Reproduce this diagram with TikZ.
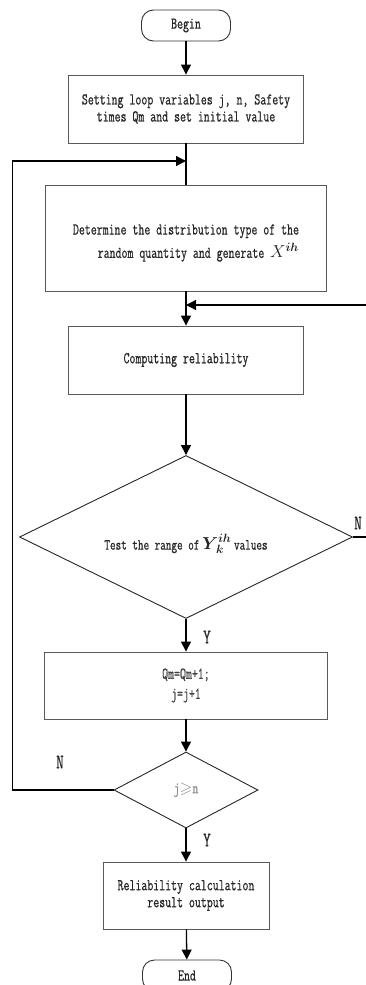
\documentclass[tikz,border=0pt]{standalone}
\usepackage{amsmath,amssymb}
\usepackage{fontspec}
\usepackage{tikz}
\usetikzlibrary{shapes.geometric,arrows.meta,positioning}
\newfontfamily\chartfamily{Latin Modern Mono}[FakeStretch=0.7,FakeBold=0.6]
\newcommand{\boxfont}{\chartfamily\fontsize{16.5}{17}\selectfont}
\newcommand{\smallfont}{\chartfamily\fontsize{15.5}{20}\selectfont}
\newcommand{\labelfont}{\chartfamily\fontsize{21}{21}\selectfont}
\newcommand{\bigmath}{\fontsize{18}{18}\selectfont}
\tikzstyle{procbox} = [draw=black!65, line width=0.9pt, rectangle,
    align=center, text=black!85, font=\boxfont, inner sep=0pt]
\tikzstyle{terminal} = [draw=black!80, line width=0.9pt, rectangle,
    rounded corners=12pt, minimum width=89pt, minimum height=31pt,
    text=black!85, font=\boxfont]
\tikzstyle{decision} = [draw=black!85, line width=0.9pt, diamond,
    inner sep=0pt, text=black!85, font=\smallfont]
\tikzstyle{flow} = [draw=black, line width=1.3pt,
    -{Triangle[length=10pt,width=10pt]}]
\tikzstyle{branch} = [text=black!85, font=\labelfont]

\begin{document}
\begin{tikzpicture}[x=1pt,y=-1pt]
\clip (0,0) rectangle (366,985);
\node [terminal] (begin) at (186,25.5) {Begin};
\node [procbox, minimum width=235pt, minimum height=68pt] (init) at (186,109)
    {Setting loop variables j, n, Safety\\times Qm and set initial value};
\node [procbox, minimum width=281pt, minimum height=106pt] (gen) at (186,238) {};
\node [procbox, draw=none, align=right] (gentext) at (186,243)
    {Determine the distribution type of the\\[4pt]random quantity and generate {\bigmath$X^{\boldsymbol{ih}}$}};
\node [procbox, minimum width=235pt, minimum height=68pt] (comp) at (186,360)
    {Computing reliability};
\node [decision, minimum width=333pt, minimum height=163pt] (test) at (186,537) {};
\node [procbox, draw=none, font=\smallfont] (testtext) at (186,544)
    {Test the range of\,{\bigmath$\boldsymbol{Y}_{\!\boldsymbol{k}}^{\boldsymbol{ih}}$}\,values};
\node [procbox, text=black!75, minimum width=283pt, minimum height=67pt] (incr) at (186,685.5)
    {Qm=Qm+1;\\[3pt]j=j+1};
\node [decision, font=\boxfont, text=black!45, minimum width=144pt, minimum height=76pt] (check) at (186,790)
    {j$\geqslant$n};
\node [procbox, minimum width=166pt, minimum height=67pt] (result) at (186,895.5)
    {Reliability calculation\\result output};
\node [terminal] (end) at (187,975.5) {End};

% junctions on the main line
\coordinate (loopin) at (186,161);
\coordinate (backin) at (186,305);

\draw [flow] (begin) -- (init);
\draw [line width=1.3pt] (init) -- (gen);
\draw [flow] (gen) -- (comp);
\draw [flow] (comp) -- (test);
\draw [flow] (test) -- (incr);
\draw [flow] (incr) -- (check);
\draw [flow] (check) -- (result);
\draw [flow] (result) -- (end);

% return paths
\draw [flow] (check.west) -- ++(-101,0) |- (loopin);
\draw [flow] (test.east) -- ++(18,0) |- (backin);

\node [branch] (n1) at (358,523) {N};
\node [branch] (y1) at (207,637) {Y};
\node [branch] (n2) at (60,762) {N};
\node [branch] (y2) at (207,840) {Y};
\end{tikzpicture}
\end{document}
